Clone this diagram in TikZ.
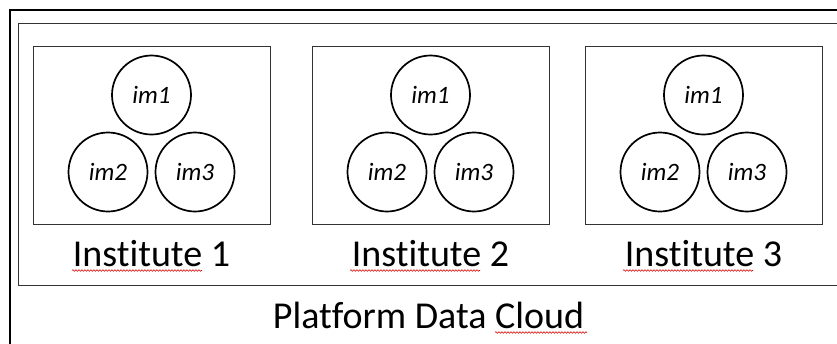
\documentclass[tikz,border=0pt]{standalone}
\usepackage{fontspec}
\setmainfont{Carlito}[Ligatures={NoCommon}]
\usetikzlibrary{decorations.pathmorphing}
\begin{document}
\begin{tikzpicture}[x=1pt,y=-1pt,
  instbox/.style={draw=black!80,line width=1pt,minimum width=237pt,minimum height=178pt,inner sep=0pt},
  imcirc/.style={draw,circle,line width=1.7pt,minimum size=79pt,inner sep=0pt,font=\fontsize{25}{28}\selectfont\itshape},
  biglabel/.style={font=\fontsize{38}{41}\selectfont,inner sep=0pt,anchor=base},
  squig/.style={red!85!black,line width=0.6pt,decorate,decoration={snake,amplitude=0.8pt,segment length=3pt}}]
\clip (0,0) rectangle (837,343);
\fill[white] (0,0) rectangle (837,343);
% outer frames
\draw[line width=2pt] (10,360) -- (10,10) -- (860,10);
\draw[line width=1pt,black!80] (860,23) -- (18,23) -- (18,285) -- (860,285);
% institute boxes
\foreach \i/\cx/\dx in {1/151.5/43.5, 2/430.5/43.5, 3/703.5/43.5}{
  \node[instbox] (box\i) at (\cx,135) {};
  \node[imcirc] (a\i) at (\cx,95) {im1};
  \node[imcirc] (b\i) at ({\cx-\dx},172) {im2};
  \node[imcirc] (c\i) at ({\cx+\dx},172) {im3};
  \node[biglabel] (lab\i) at (\cx,266) {Institute \i};
}
\node[biglabel] (cloud) at (428.5,328) {Platform Data Cloud};
% spell-check squiggles
\draw[squig] (72,270.5) -- (202,270.5);
\draw[squig] (350,270.5) -- (480,270.5);
\draw[squig] (623,270.5) -- (753,270.5);
\draw[squig] (495,332.5) -- (587,332.5);
\end{tikzpicture}
\end{document}
